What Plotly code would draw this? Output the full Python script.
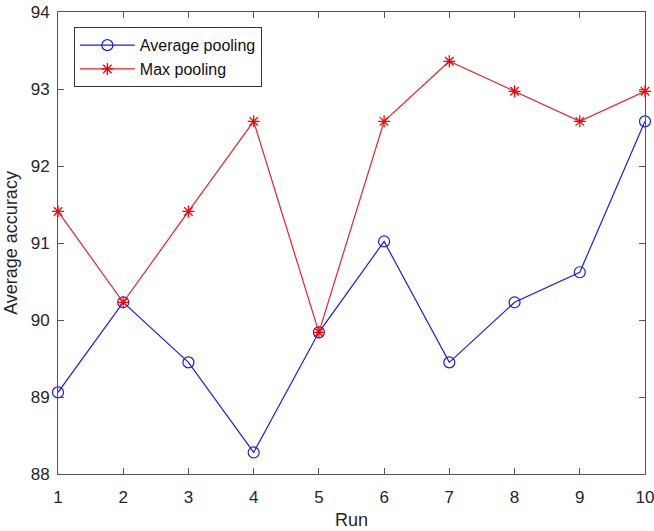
import plotly.graph_objects as go

runs = [1, 2, 3, 4, 5, 6, 7, 8, 9, 10]
avg_pooling = [89.06, 90.23, 89.45, 88.28, 89.84, 91.02, 89.45, 90.23, 90.62, 92.58]
max_pooling = [91.41, 90.23, 91.41, 92.58, 89.84, 92.58, 93.36, 92.97, 92.58, 92.97]
y_ticks = [88, 89, 90, 91, 92, 93, 94]

fig = go.Figure()
fig.add_trace(go.Scatter(
    x=runs, y=avg_pooling, mode="lines+markers", name="Average pooling",
    line=dict(color="#1a1aee", width=1.2),
    marker=dict(symbol="circle-open", size=11, color="#1a1aee", line=dict(width=1.2)),
    cliponaxis=False,
))
fig.add_trace(go.Scatter(
    x=runs, y=max_pooling, mode="lines+markers", name="Max pooling",
    line=dict(color="#e8202a", width=1.2),
    marker=dict(symbol="asterisk-open", size=10, color="#ff0000", line=dict(width=1.3, color="#ff0000")),
    cliponaxis=False,
))

axis_common = dict(
    showline=True, linecolor="#555555", linewidth=1, mirror="ticks",
    ticks="inside", ticklen=6, tickcolor="#555555",
    showgrid=False, zeroline=False, automargin=False,
    ticklabeloverflow="allow",
    tickfont=dict(family="Liberation Sans, Arial, sans-serif", size=17, color="#262626"),
)

fig.update_layout(
    width=654, height=531,
    margin=dict(l=58, r=9, t=12, b=57),
    paper_bgcolor="white", plot_bgcolor="white",
    font=dict(family="Liberation Sans, Arial, sans-serif", color="#262626"),
    xaxis=dict(range=[1, 10], tickvals=runs, ticklabelstandoff=8,
               title=dict(text="Run", font=dict(size=18), standoff=6), **axis_common),
    yaxis=dict(range=[88, 94], tickvals=y_ticks, ticklabelstandoff=4,
               title=dict(text="Average accuracy", font=dict(size=18), standoff=8), **axis_common),
    legend=dict(
        x=0.027, y=0.967, xanchor="left", yanchor="top",
        bgcolor="white", bordercolor="#333333", borderwidth=1,
        font=dict(size=16, color="#111111"),
        tracegroupgap=0, itemwidth=55,
    ),
    showlegend=True,
)

fig.write_html(
    "out.html",
    config={"displayModeBar": False},
    post_script="document.body.style.margin='0';document.body.style.overflow='hidden';",
)
